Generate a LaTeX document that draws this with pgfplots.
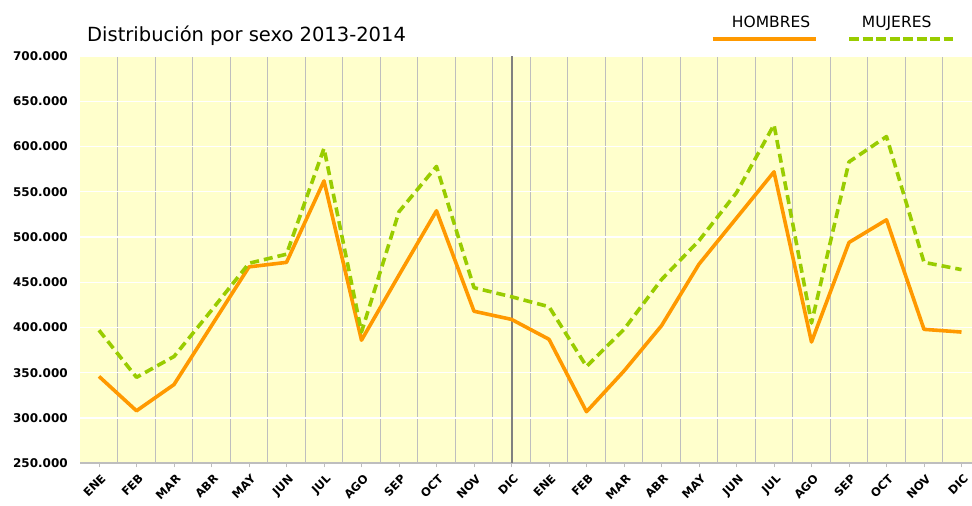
\documentclass[border=0pt]{standalone}
\usepackage{pgfplots}
\pgfplotsset{compat=1.18}
\usepackage{fontspec}
\setmainfont{DejaVu Sans}
\definecolor{bgy}{RGB}{255,255,204}
\definecolor{orng}{RGB}{255,153,0}
\definecolor{grn}{RGB}{153,204,0}
\definecolor{vgrid}{RGB}{190,190,190}
\definecolor{dkline}{RGB}{128,128,128}

\begin{document}
\begin{tikzpicture}
\useasboundingbox (0,0) rectangle (972pt,506pt);
\begin{axis}[
  at={(80.25pt,42.7pt)}, anchor=south west,
  width=891.75pt, height=407.3pt, scale only axis,
  xmin=-0.5, xmax=23.28, ymin=250000, ymax=700000,
  axis background/.style={fill=bgy},
  axis x line*=bottom, axis y line*=left,
  x axis line style={draw=vgrid, line width=2pt, -},
  y axis line style={draw=none},
  xtick={0,...,23},
  xticklabels={ENE,FEB,MAR,ABR,MAY,JUN,JUL,AGO,SEP,OCT,NOV,DIC,ENE,FEB,MAR,ABR,MAY,JUN,JUL,AGO,SEP,OCT,NOV,DIC},
  minor xtick={0.5,1.5,...,22.5},
  xminorgrids,
  minor x grid style={vgrid, line width=1.3pt},
  minor tick length=0pt,
  ytick={250000,300000,...,700000},
  ymajorgrids,
  y grid style={white, line width=1.3pt},
  tick align=outside,
  major tick length=4pt,
  xtick style={draw=vgrid, line width=1pt},
  ytick style={draw=none},
  scaled y ticks=false,
  /pgf/number format/.cd, 1000 sep={.}, fixed, assume math mode=true,
  /pgfplots/.cd,
  yticklabel style={font=\bfseries\fontsize{12}{14}\selectfont, xshift=-5pt},
  xticklabel style={font=\bfseries\fontsize{11.5}{13}\selectfont, rotate=45, anchor=north east, yshift=-2pt},
  clip=true,
]
\draw[dkline, line width=2pt] (axis cs:11,250000) -- (axis cs:11,700000);
\addplot[orng, line width=3.6pt, line join=round] coordinates {
(0,346000) (1,308000) (2,337000) (3,402000) (4,467000) (5,472000) (6,562000) (7,386000) (8,458000) (9,529000) (10,418000) (11,409000)
(12,387000) (13,307000) (14,352000) (15,402000) (16,470000) (17,521000) (18,572000) (19,384000) (20,494000) (21,519000) (22,398000) (23,395000)
};
\addplot[grn, line width=3.6pt, line join=round, dash pattern=on 9pt off 5pt] coordinates {
(0,397000) (1,345000) (2,368000) (3,419000) (4,471000) (5,481000) (6,598000) (7,395000) (8,528000) (9,578000) (10,444000) (11,434000)
(12,423000) (13,357000) (14,398000) (15,453000) (16,496000) (17,549000) (18,624000) (19,405000) (20,583000) (21,611000) (22,472000) (23,464000)
};
\end{axis}
\node[anchor=base west, font=\fontsize{19.5}{22}\selectfont, inner sep=0pt] at (87pt,464.3pt) {Distribución por sexo 2013-2014};
\node[anchor=base west, font=\fontsize{15.5}{18}\selectfont, inner sep=0pt] at (731.7pt,478.7pt) {HOMBRES};
\draw[orng, line width=4pt] (712.7pt,467.3pt) -- (816pt,467.3pt);
\node[anchor=base west, font=\fontsize{15.5}{18}\selectfont, inner sep=0pt] at (861.7pt,478.7pt) {MUJERES};
\draw[grn, line width=4pt, dash pattern=on 10pt off 3.5pt] (849pt,467.3pt) -- (952.7pt,467.3pt);
\end{tikzpicture}
\end{document}
